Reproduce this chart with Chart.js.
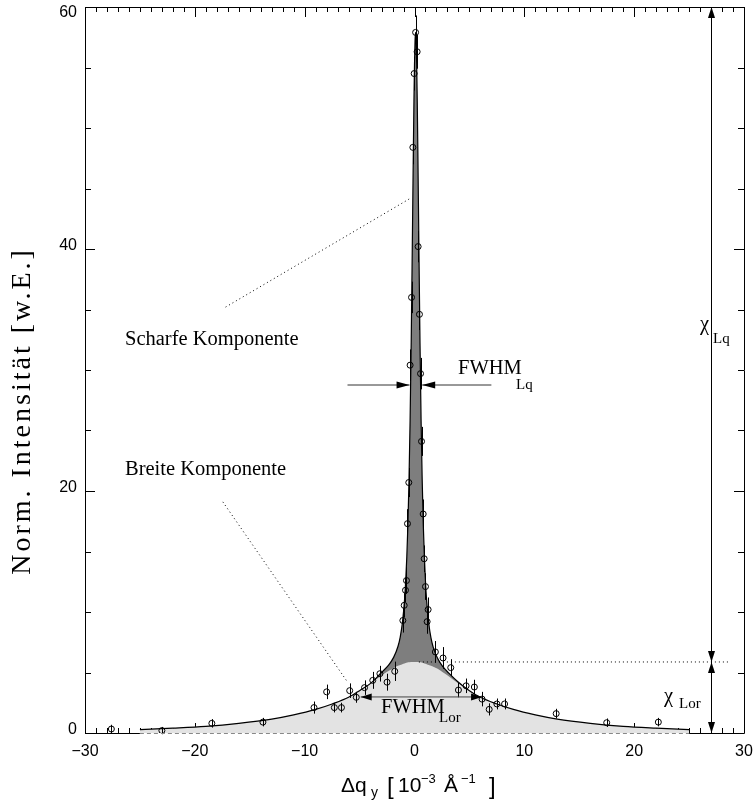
<!DOCTYPE html>
<html>
<head>
<meta charset="utf-8">
<script src="https://cdn.jsdelivr.net/npm/chart.js@4.4.1/dist/chart.umd.min.js"></script>
<style>
  body { margin: 0; background: #fff; }
  canvas { display: block; }
</style>
</head>
<body>
<canvas id="chart" width="753" height="805"></canvas>
<script>
// measured points (delta q_y, intensity, error)
const pointX = [-27.6, -23.0, -18.45, -13.8, -9.15, -8.0, -7.3, -6.65, -5.9, -5.3, -4.55, -3.8, -3.15, -2.5, -1.8,
  -1.06, -0.94, -0.82, -0.73, -0.64, -0.52, -0.4, -0.27, -0.15, -0.03, 0.1, 0.24, 0.33, 0.45, 0.55, 0.64, 0.79, 0.88,
  1.0, 1.15, 1.24, 1.9, 2.6, 3.3, 4.0, 4.7, 5.45, 6.15, 6.8, 7.5, 8.2, 12.9, 17.5, 22.2];
const pointY = [0.33, 0.2, 0.8, 0.9, 2.1, 3.4, 2.1, 2.1, 3.5, 2.95, 3.75, 4.35, 4.9, 4.2, 5.1,
  9.3, 10.55, 11.8, 12.6, 17.3, 20.7, 30.4, 36.0, 48.4, 54.5, 57.9, 56.3, 40.2, 34.6, 29.7, 24.1, 18.1, 14.4,
  12.1, 9.2, 10.2, 6.7, 6.2, 5.4, 3.55, 3.9, 3.8, 2.8, 1.95, 2.4, 2.4, 1.6, 0.85, 0.9];
const pointErr = [0.35, 0.3, 0.35, 0.35, 0.5, 0.6, 0.4, 0.4, 0.6, 0.45, 0.6, 0.7, 0.65, 0.7, 0.8,
  1.0, 1.0, 1.0, 1.1, 1.2, 1.2, 1.3, 1.3, 1.4, 1.4, 1.4, 1.4, 1.3, 1.3, 1.3, 1.2, 1.2, 1.1,
  1.1, 1.0, 1.0, 0.9, 0.9, 0.7, 0.6, 0.6, 0.6, 0.6, 0.5, 0.45, 0.45, 0.4, 0.35, 0.35];

// fit curves
const curveX = [-25, -22, -19, -16, -13, -11, -9, -7.5, -6, -5, -4, -3, -2.4, -1.9, -1.5, -1.3, -1.1, -0.9, -0.8, -0.7,
  -0.6, -0.5, -0.4, -0.3, -0.2, -0.1, -0.05, 0, 0.05, 0.1, 0.15, 0.2, 0.25, 0.3, 0.4, 0.5, 0.6, 0.7, 0.8, 0.9,
  1.0, 1.1, 1.3, 1.5, 1.7, 2.1, 2.6, 3.1, 4, 5, 6, 7.5, 9, 11, 13, 16, 19, 22, 25];
const broadY = [0.28, 0.4, 0.55, 0.8, 1.15, 1.5, 1.95, 2.4, 2.95, 3.5, 4.1, 4.75, 5.1, 5.38, 5.55, 5.62, 5.69, 5.75, 5.78, 5.8,
  5.82, 5.84, 5.85, 5.86, 5.87, 5.87, 5.87, 5.87, 5.87, 5.87, 5.87, 5.87, 5.86, 5.86, 5.85, 5.84, 5.82, 5.8, 5.78, 5.75,
  5.72, 5.69, 5.62, 5.55, 5.47, 5.3, 5.0, 4.7, 4.1, 3.5, 2.95, 2.4, 1.95, 1.5, 1.15, 0.8, 0.55, 0.4, 0.28];
const totalY = [0.28, 0.4, 0.55, 0.8, 1.15, 1.5, 1.95, 2.4, 2.95, 3.5, 4.1, 5.0, 5.56, 6.25, 7.17, 7.93, 9.12, 11.1, 12.57, 14.56,
  17.2, 20.9, 25.85, 32.3, 40.2, 48.5, 52.2, 55.2, 57.2, 57.9, 57.2, 55.2, 52.2, 48.5, 40.2, 32.3, 25.8, 20.9, 17.2, 14.55,
  12.5, 11.0, 9.05, 7.86, 7.1, 6.17, 5.46, 4.97, 4.2, 3.5, 2.95, 2.4, 1.95, 1.5, 1.15, 0.8, 0.55, 0.4, 0.28];

const xTicks = [-30, -20, -10, 0, 10, 20, 30];
const yTicks = [0, 20, 40, 60];

const lorPeak = 5.87;
const chiX = 27;

const curveTotal = curveX.map((x, i) => ({ x: x, y: totalY[i] }));
const curveBroad = curveX.map((x, i) => ({ x: x, y: broadY[i] }));
const points = pointX.map((x, i) => ({ x: x, y: pointY[i] }));

function arrowHead(ctx, x, y, dir, len, half) {
  // dir: 'l','r','u','d' = direction the tip points to
  ctx.beginPath();
  ctx.moveTo(x, y);
  if (dir === 'r') { ctx.lineTo(x - len, y - half); ctx.lineTo(x - len, y + half); }
  if (dir === 'l') { ctx.lineTo(x + len, y - half); ctx.lineTo(x + len, y + half); }
  if (dir === 'u') { ctx.lineTo(x - half, y + len); ctx.lineTo(x + half, y + len); }
  if (dir === 'd') { ctx.lineTo(x - half, y - len); ctx.lineTo(x + half, y - len); }
  ctx.closePath();
  ctx.fill();
}

function line(ctx, x1, y1, x2, y2) {
  ctx.beginPath();
  ctx.moveTo(x1, y1);
  ctx.lineTo(x2, y2);
  ctx.stroke();
}

const axisTicks = {
  id: 'axisTicks',
  beforeDatasetsDraw(chart) {
    const { ctx, chartArea: a, scales: { x, y } } = chart;
    ctx.save();
    ctx.strokeStyle = '#000';
    ctx.lineWidth = 1;
    for (let v = -30; v <= 30; v++) {
      const px = Math.round(x.getPixelForValue(v)) + 0.5;
      const len = v % 10 === 0 ? 10 : 5;
      line(ctx, px, a.bottom, px, a.bottom - len);
      line(ctx, px, a.top, px, a.top + len);
    }
    for (let v = 0; v <= 60; v += 5) {
      const py = Math.round(y.getPixelForValue(v)) + 0.5;
      const len = v % 20 === 0 ? 10 : 6;
      line(ctx, a.left, py, a.left + len, py);
      line(ctx, a.right, py, a.right - len, py);
    }
    ctx.restore();
  },
  beforeDatasetDraw(chart, args) {
    if (args.index !== 2) return;
    const { ctx, scales: { x, y } } = chart;
    ctx.save();
    ctx.strokeStyle = '#000';
    ctx.lineWidth = 1;
    pointX.forEach((v, i) => {
      const px = Math.round(x.getPixelForValue(v)) + 0.5;
      line(ctx, px, y.getPixelForValue(pointY[i] - pointErr[i]), px, y.getPixelForValue(pointY[i] + pointErr[i]));
    });
    ctx.restore();
  },
  afterDatasetsDraw(chart) {
    const { ctx, chartArea: a, scales: { x, y } } = chart;
    ctx.save();
    // frame
    ctx.strokeStyle = '#000';
    ctx.lineWidth = 1;
    ctx.beginPath();
    ctx.moveTo(x.getPixelForValue(-25), a.bottom + 0.5);
    ctx.lineTo(a.left + 0.5, a.bottom + 0.5);
    ctx.lineTo(a.left + 0.5, a.top + 0.5);
    ctx.lineTo(a.right + 0.5, a.top + 0.5);
    ctx.lineTo(a.right + 0.5, a.bottom + 0.5);
    ctx.lineTo(x.getPixelForValue(25), a.bottom + 0.5);
    ctx.stroke();
    ctx.strokeStyle = '#888';
    ctx.setLineDash([4, 3]);
    line(ctx, x.getPixelForValue(-25), a.bottom + 0.5, x.getPixelForValue(25), a.bottom + 0.5);
    ctx.setLineDash([]);

    // tick labels
    ctx.fillStyle = '#000';
    ctx.font = '16px "Liberation Sans", Arial, sans-serif';
    ctx.textAlign = 'center';
    ctx.textBaseline = 'middle';
    xTicks.forEach(v => {
      ctx.fillText(String(v).replace('-', '\u2212'), x.getPixelForValue(v), a.bottom + 19);
    });
    ctx.textAlign = 'right';
    yTicks.forEach(v => {
      let py = y.getPixelForValue(v);
      if (v === 60) py += 6; else py -= 3;
      ctx.fillText(String(v), a.left - 8, py);
    });

    // axis titles
    ctx.save();
    ctx.translate(23, 411);
    ctx.rotate(-Math.PI / 2);
    ctx.textAlign = 'center';
    ctx.font = '28px "Liberation Serif", "Times New Roman", serif';
    ctx.letterSpacing = '3px';
    ctx.fillText('Norm. Intensit\u00e4t [w.E.]', 0, 0);
    ctx.restore();

    ctx.textAlign = 'left';
    ctx.textBaseline = 'alphabetic';
    const tb = 792;
    ctx.font = '21px "Liberation Sans", Arial, sans-serif';
    ctx.fillText('\u0394q', 341, tb);
    ctx.font = '14px "Liberation Sans", Arial, sans-serif';
    ctx.fillText('y', 371, tb + 5);
    ctx.font = '24px "Liberation Sans", Arial, sans-serif';
    ctx.fillText('[', 387, tb + 2);
    ctx.font = '21px "Liberation Sans", Arial, sans-serif';
    ctx.fillText('10', 398, tb);
    ctx.font = '13px "Liberation Sans", Arial, sans-serif';
    ctx.fillText('\u22123', 421, tb - 9);
    ctx.font = '21px "Liberation Sans", Arial, sans-serif';
    ctx.fillText('\u00c5', 444, tb);
    ctx.font = '13px "Liberation Sans", Arial, sans-serif';
    ctx.fillText('\u22121', 461, tb - 9);
    ctx.font = '24px "Liberation Sans", Arial, sans-serif';
    ctx.fillText(']', 489, tb + 2);

    // dotted guide lines
    ctx.strokeStyle = '#000';
    ctx.lineWidth = 1;
    ctx.setLineDash([1, 3]);
    line(ctx, x.getPixelForValue(0.4), y.getPixelForValue(lorPeak), x.getPixelForValue(28.8), y.getPixelForValue(lorPeak));
    line(ctx, x.getPixelForValue(-17.2), y.getPixelForValue(35.2), x.getPixelForValue(-0.36), y.getPixelForValue(44.2));
    line(ctx, x.getPixelForValue(-17.45), y.getPixelForValue(19.1), x.getPixelForValue(-6.09), y.getPixelForValue(4.2));
    ctx.setLineDash([]);

    // FWHM_Lq arrows
    ctx.strokeStyle = '#333';
    ctx.fillStyle = '#000';
    const yq = y.getPixelForValue(28.76);
    line(ctx, x.getPixelForValue(-6.1), yq, x.getPixelForValue(-0.45), yq);
    arrowHead(ctx, x.getPixelForValue(-0.45), yq, 'r', 13, 3.5);
    line(ctx, x.getPixelForValue(7.0), yq, x.getPixelForValue(0.7), yq);
    arrowHead(ctx, x.getPixelForValue(0.7), yq, 'l', 13, 3.5);

    // FWHM_Lor arrow
    const yl = y.getPixelForValue(2.98);
    ctx.strokeStyle = '#444';
    line(ctx, x.getPixelForValue(-4.9), yl, x.getPixelForValue(6.15), yl);
    arrowHead(ctx, x.getPixelForValue(-4.9), yl, 'l', 11, 3.5);
    arrowHead(ctx, x.getPixelForValue(6.15), yl, 'r', 11, 3.5);

    // chi arrows
    const xc = Math.round(x.getPixelForValue(chiX)) + 0.5;
    ctx.strokeStyle = '#000';
    line(ctx, xc, y.getPixelForValue(60), xc, y.getPixelForValue(0));
    arrowHead(ctx, xc, y.getPixelForValue(60), 'u', 11, 3.5);
    arrowHead(ctx, xc, y.getPixelForValue(lorPeak), 'd', 11, 3.5);
    arrowHead(ctx, xc, y.getPixelForValue(lorPeak), 'u', 11, 3.5);
    arrowHead(ctx, xc, y.getPixelForValue(0), 'd', 11, 3.5);

    // text labels
    ctx.fillStyle = '#000';
    ctx.textBaseline = 'alphabetic';
    ctx.textAlign = 'left';
    const serif = '"Liberation Serif", "Times New Roman", serif';
    ctx.font = '20.5px ' + serif;
    ctx.fillText('Scharfe Komponente', 125, 345);
    ctx.fillText('Breite Komponente', 125, 475);
    ctx.fillText('FWHM', 458, 374);
    ctx.fillText('FWHM', 381, 713);
    ctx.fillText('\u03c7', 700, 330);
    ctx.fillText('\u03c7', 664, 702);
    ctx.font = '15px ' + serif;
    ctx.fillText('Lq', 516, 389);
    ctx.fillText('Lor', 439, 722);
    ctx.fillText('Lq', 713, 343);
    ctx.fillText('Lor', 679, 708);
    ctx.restore();
  }
};

new Chart(document.getElementById('chart'), {
  type: 'scatter',
  data: {
    datasets: [
      {
        label: 'Fit',
        type: 'line',
        data: curveTotal,
        borderColor: '#000',
        borderWidth: 1.2,
        backgroundColor: '#7e7e7e',
        fill: 1,
        pointRadius: 0,
        cubicInterpolationMode: 'monotone',
        order: 1
      },
      {
        label: 'Lorentz',
        type: 'line',
        data: curveBroad,
        borderWidth: 0,
        borderColor: 'rgba(0,0,0,0)',
        backgroundColor: '#e3e3e3',
        fill: 'origin',
        pointRadius: 0,
        cubicInterpolationMode: 'monotone',
        order: 2
      },
      {
        label: 'Messung',
        data: points,
        pointRadius: 3,
        pointStyle: 'circle',
        borderColor: '#000',
        borderWidth: 1,
        backgroundColor: 'rgba(0,0,0,0)',
        order: 0
      }
    ]
  },
  options: {
    responsive: false,
    animation: false,
    layout: { padding: { left: 85, right: 9, top: 7, bottom: 72 } },
    plugins: { legend: { display: false }, tooltip: { enabled: false } },
    scales: {
      x: { type: 'linear', min: -30, max: 30, display: false },
      y: { type: 'linear', min: 0, max: 60, display: false }
    }
  },
  plugins: [axisTicks]
});
</script>
</body>
</html>
